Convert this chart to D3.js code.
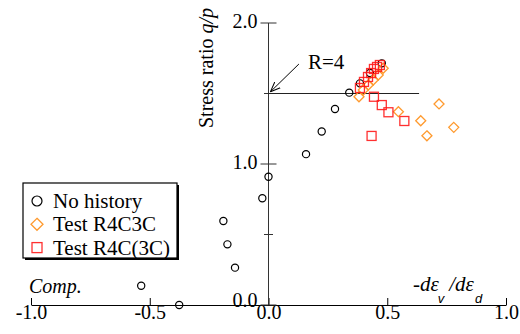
<!DOCTYPE html>
<html>
<head>
<meta charset="utf-8">
<script src="https://cdn.jsdelivr.net/npm/d3@7"></script>
<style>
  body { margin: 0; background: #fff; }
  svg text { font-family: "Liberation Serif", "Times New Roman", serif; }
</style>
</head>
<body>
<div id="grafico"></div>
<script>
// Eixos
const xTicks = [-1.0, -0.5, 0.0, 0.5, 1.0];
const yLabelTicks = [0.0, 1.0, 2.0];
const yMinorTicks = [0.5, 1.5];

// Series: -dev/ded (x) vs q/p (y)
const noHistoryX = [-0.376, -0.536, -0.141, -0.173, -0.19, -0.026, 0.0, 0.158, 0.224, 0.28, 0.34, 0.385, 0.427, 0.477];
const noHistoryY = [0.0, 0.137, 0.265, 0.43, 0.596, 0.757, 0.91, 1.07, 1.23, 1.39, 1.506, 1.572, 1.645, 1.714];

const r4c3cX = [0.381, 0.399, 0.42, 0.441, 0.462, 0.483, 0.547, 0.641, 0.667, 0.718, 0.78];
const r4c3cY = [1.477, 1.525, 1.56, 1.596, 1.631, 1.679, 1.371, 1.307, 1.2, 1.426, 1.26];

const r4c_3cX = [0.385, 0.402, 0.419, 0.432, 0.444, 0.457, 0.469, 0.444, 0.477, 0.505, 0.572, 0.434];
const r4c_3cY = [1.539, 1.582, 1.617, 1.645, 1.674, 1.688, 1.702, 1.477, 1.418, 1.367, 1.305, 1.199];

// Linha R=4 e seta
const rLineX = [0.0, 0.634];
const rLineY = [1.5, 1.5];
const arrowX = [0.128, 0.008];
const arrowY = [1.709, 1.512];

const legendLabels = ["No history", "Test R4C3C", "Test R4C(3C)"];
const cores = { circle: "#000", diamond: "#ff9a2e", square: "#ff1a1a" };

const serif = "'Liberation Serif', 'Times New Roman', serif";
const width = 520, height = 334;

const svg = d3.select("#grafico")
  .append("svg")
  .attr("width", width)
  .attr("height", height);

const x = d3.scaleLinear().domain([-1, 1]).range([31, 506]);
const y = d3.scaleLinear().domain([0, 2]).range([305, 23]);

svg.append("defs").append("marker")
  .attr("id", "seta")
  .attr("viewBox", "0 0 10 10")
  .attr("refX", 10).attr("refY", 5)
  .attr("markerWidth", 10).attr("markerHeight", 10)
  .attr("markerUnits", "userSpaceOnUse")
  .attr("orient", "auto")
  .append("path")
  .attr("d", "M0,1 L10,5 L0,9")
  .attr("fill", "none")
  .attr("stroke", "#000")
  .attr("stroke-width", 1);

// Eixo X (ticks para cima)
const xAxis = svg.append("g")
  .attr("transform", `translate(0,${y(0)})`)
  .attr("font-family", serif)
  .call(d3.axisBottom(x)
    .tickValues(xTicks)
    .tickSizeInner(-7)
    .tickSizeOuter(0)
    .tickPadding(0)
    .tickFormat(d => d.toFixed(1)));
xAxis.attr("font-family", serif).attr("font-size", 20);
xAxis.selectAll("text").attr("fill", "#000");
xAxis.select(".domain").attr("stroke", "#000");

// Eixo Y
svg.append("line")
  .attr("x1", x(0)).attr("x2", x(0))
  .attr("y1", y(0)).attr("y2", y(2))
  .attr("stroke", "#333");

yLabelTicks.forEach(t => {
  svg.append("line")
    .attr("x1", x(0) - 8).attr("x2", x(0) + 8)
    .attr("y1", y(t)).attr("y2", y(t))
    .attr("stroke", "#333");
  svg.append("text")
    .attr("x", x(0) - 11)
    .attr("y", y(t) + (t === 0 ? 2 : 5))
    .attr("text-anchor", "end")
    .attr("font-family", serif)
    .style("font-size", "20px")
    .text(t.toFixed(1));
});

yMinorTicks.forEach(t => {
  svg.append("line")
    .attr("x1", x(0) - 4.5).attr("x2", x(0) + 4.5)
    .attr("y1", y(t)).attr("y2", y(t))
    .attr("stroke", "#333");
});

// Titulo do eixo Y
const yTitle = svg.append("text")
  .attr("transform", "translate(213,68) rotate(-90)")
  .attr("text-anchor", "middle")
  .attr("font-family", serif)
  .style("font-size", "20px");
yTitle.append("tspan").text("Stress ratio ");
yTitle.append("tspan").style("font-style", "italic").text("q/p");

// Titulo do eixo X
const xTitle = svg.append("text")
  .attr("x", 413)
  .attr("y", 291)
  .attr("font-family", serif)
  .style("font-size", "21px")
  .style("font-style", "italic");
xTitle.append("tspan").text("-d\u03b5");
xTitle.append("tspan").attr("dy", 12).attr("dx", -1)
  .attr("font-family", "'Liberation Sans', Arial, sans-serif")
  .style("font-size", "13px").text("v");
xTitle.append("tspan").attr("dy", -12).attr("dx", 5).text("/d\u03b5");
xTitle.append("tspan").attr("dy", 12).attr("dx", 1)
  .attr("font-family", "'Liberation Sans', Arial, sans-serif")
  .style("font-size", "13px").text("d");

svg.append("text")
  .attr("x", 29)
  .attr("y", 293)
  .attr("font-family", serif)
  .style("font-size", "20px")
  .style("font-style", "italic")
  .text("Comp.");

// Linha R=4
svg.append("line")
  .attr("x1", x(rLineX[0])).attr("x2", x(rLineX[1]))
  .attr("y1", y(rLineY[0])).attr("y2", y(rLineY[1]))
  .attr("stroke", "#222")
  .attr("stroke-width", 1.2);

svg.append("line")
  .attr("x1", x(arrowX[0])).attr("y1", y(arrowY[0]))
  .attr("x2", x(arrowX[1])).attr("y2", y(arrowY[1]))
  .attr("stroke", "#000")
  .attr("marker-end", "url(#seta)");

svg.append("text")
  .attr("x", 308)
  .attr("y", 69)
  .attr("font-family", serif)
  .style("font-size", "21px")
  .text("R=4");

// Simbolos
function desenharSimbolo(g, tipo, cx, cy, tamanho) {
  if (tipo === "circle") {
    g.append("circle")
      .attr("cx", cx).attr("cy", cy).attr("r", tamanho)
      .attr("fill", "none").attr("stroke", cores.circle).attr("stroke-width", 1.2);
  } else if (tipo === "diamond") {
    const s = tamanho;
    g.append("path")
      .attr("d", `M${cx},${cy - s}L${cx + s},${cy}L${cx},${cy + s}L${cx - s},${cy}Z`)
      .attr("fill", "none").attr("stroke", cores.diamond).attr("stroke-width", 1.3);
  } else {
    const s = tamanho;
    g.append("rect")
      .attr("x", cx - s).attr("y", cy - s)
      .attr("width", 2 * s).attr("height", 2 * s)
      .attr("fill", "none").attr("stroke", cores.square).attr("stroke-width", 1.3)
      .attr("stroke-opacity", 0.9);
  }
}

const pontos = svg.append("g");
noHistoryX.forEach((v, i) => desenharSimbolo(pontos, "circle", x(v), y(noHistoryY[i]), 3.6));
r4c3cX.forEach((v, i) => desenharSimbolo(pontos, "diamond", x(v), y(r4c3cY[i]), 5));
r4c_3cX.forEach((v, i) => desenharSimbolo(pontos, "square", x(v), y(r4c_3cY[i]), 4.5));

// Legenda
const leg = svg.append("g");
leg.append("rect")
  .attr("x", 25).attr("y", 185)
  .attr("width", 154).attr("height", 75)
  .attr("fill", "#000");
leg.append("rect")
  .attr("x", 23).attr("y", 183)
  .attr("width", 154).attr("height", 75)
  .attr("fill", "#fff")
  .attr("stroke", "#000")
  .attr("stroke-width", 1.2);

const tipos = ["circle", "diamond", "square"];
const tamanhosLeg = [5, 6, 5];
legendLabels.forEach((label, i) => {
  const ly = 201 + i * 23.3;
  desenharSimbolo(leg, tipos[i], 37, ly, tamanhosLeg[i]);
  leg.append("text")
    .attr("x", 53)
    .attr("y", ly + 7)
    .attr("font-family", serif)
    .style("font-size", "21px")
    .text(label);
});
</script>
</body>
</html>
